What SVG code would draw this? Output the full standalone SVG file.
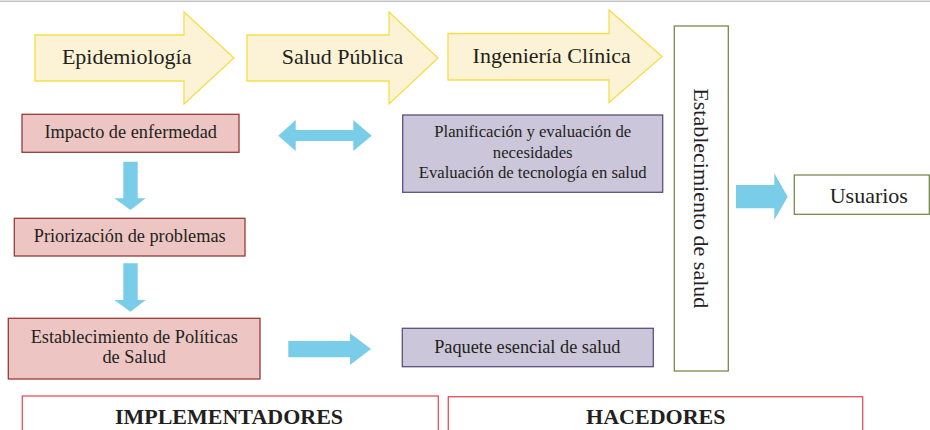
<svg xmlns="http://www.w3.org/2000/svg" width="930" height="430" viewBox="0 0 930 430">
<style>
text{font-family:'Liberation Serif','DejaVu Serif',serif;fill:#231f20;}
.yel{fill:#fcf3d6;stroke:#f3df4a;stroke-width:1.3;}
.pink{fill:#edc6c4;stroke:#983b3b;stroke-width:1.3;}
.lav{fill:#cbc6da;stroke:#5b5180;stroke-width:1.3;}
.grn{fill:#ffffff;stroke:#788a4c;stroke-width:1.3;}
.red{fill:#ffffff;stroke:#e8505a;stroke-width:1.3;}
.blue{fill:#7acde9;stroke:none;}
.t22{font-size:22px;text-anchor:middle;}
.t18{font-size:18.3px;text-anchor:middle;}
.t16{font-size:16.7px;text-anchor:middle;}
.tb{font-size:22px;font-weight:bold;text-anchor:middle;}
</style>
<rect width="930" height="430" fill="#ffffff"/>
<line x1="0" y1="1.3" x2="930" y2="1.3" stroke="#c4c4c4" stroke-width="1.5"/>

<g id="epidemiologia">
<polygon class="yel" points="35,35 184,35 184,12 234,58 184,104 184,81 35,81"/>
<text class="t22" x="126.7" y="63.5">Epidemiología</text>
</g>
<g id="salud-publica">
<polygon class="yel" points="247,35 389,35 389,12 438,58 389,104 389,81 247,81"/>
<text class="t22" x="342.5" y="63.5">Salud Pública</text>
</g>
<g id="ingenieria-clinica">
<polygon class="yel" points="448,33.5 609,33.5 609,10 662,56.5 609,102.5 609,80 448,80"/>
<text class="t22" x="551.7" y="63">Ingeniería Clínica</text>
</g>

<g id="impacto">
<rect class="pink" x="22" y="114.3" width="217" height="38"/>
<text class="t18" x="130.7" y="138">Impacto de enfermedad</text>
</g>
<g id="priorizacion">
<rect class="pink" x="14.3" y="218.3" width="230.7" height="37.7"/>
<text class="t18" x="129.7" y="242.3">Priorización de problemas</text>
</g>
<g id="politicas">
<rect class="pink" x="8.3" y="318.3" width="251.7" height="60.7"/>
<text class="t18" x="134.2" y="342.7">Establecimiento de Políticas</text>
<text class="t18" x="134.2" y="363.3">de Salud</text>
</g>

<g id="planificacion">
<rect class="lav" x="402.7" y="115" width="260" height="77.3"/>
<text class="t16" x="532.7" y="137">Planificación y evaluación de</text>
<text class="t16" x="532.7" y="157.5">necesidades</text>
<text class="t16" x="532.7" y="178">Evaluación de tecnología en salud</text>
</g>
<g id="paquete">
<rect class="lav" x="402.3" y="328.3" width="251" height="38.4"/>
<text class="t18" x="527.3" y="352.7">Paquete esencial de salud</text>
</g>

<g id="establecimiento-salud">
<rect class="grn" x="674.3" y="26" width="54" height="345"/>
<text class="t22" transform="translate(701.5,198.3) rotate(90)" x="0" y="7.5">Establecimiento de salud</text>
</g>
<g id="usuarios">
<rect class="grn" x="794.3" y="175" width="135" height="39.3"/>
<text class="t22" x="868.8" y="203">Usuarios</text>
</g>

<g id="implementadores">
<rect class="red" x="22.3" y="396" width="416" height="40"/>
<text class="tb" x="229" y="423.5">IMPLEMENTADORES</text>
</g>
<g id="hacedores">
<rect class="red" x="448.3" y="396.7" width="414.4" height="40"/>
<text class="tb" x="655.8" y="424">HACEDORES</text>
</g>

<g id="connectors">
<polygon class="blue" points="123.3,161.7 137.7,161.7 137.7,198.3 145.7,198.3 130.5,210 114.3,198.3 123.3,198.3"/>
<polygon class="blue" points="123.3,263.3 137.7,263.3 137.7,300 145.7,300 130.5,311.7 114.3,300 123.3,300"/>
<polygon class="blue" points="278.3,135.7 295.7,120 295.7,130 353.3,130 353.3,120 371.7,135.7 353.3,151 353.3,141 295.7,141 295.7,151"/>
<polygon class="blue" points="288.3,341 350,341 350,333.3 371,349 350,365 350,357.3 288.3,357.3"/>
<polygon class="blue" points="736,185 774.3,185 774.3,173.3 787.7,196.7 774.3,220 774.3,208.3 736,208.3"/>
</g>
</svg>
